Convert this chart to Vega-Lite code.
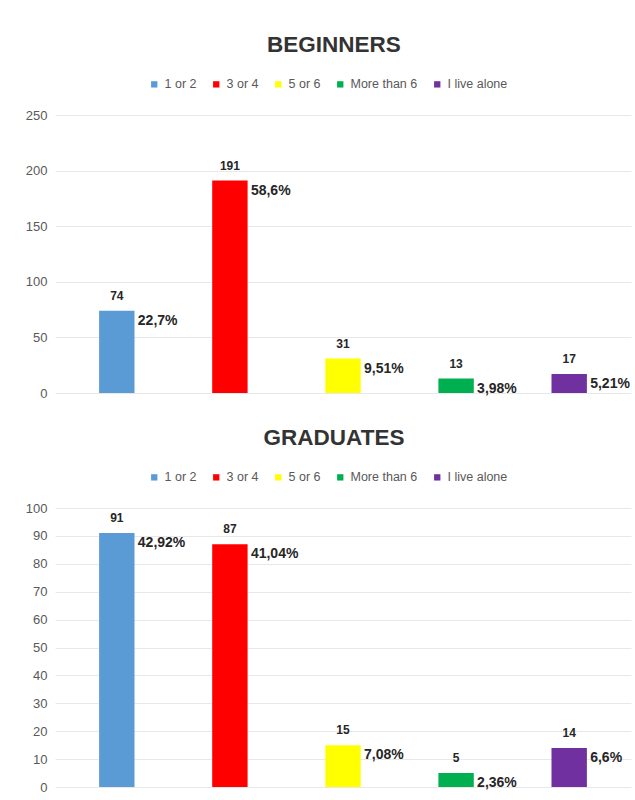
{
  "$schema": "https://vega.github.io/schema/vega-lite/v6.json",
  "padding": {"left": 25, "top": 33, "right": 5, "bottom": 5},
  "background": "white",
  "data": {"values": [
    {"group": "BEGINNERS", "cat": "1 or 2", "n": 74, "pct": "22,7%"},
    {"group": "BEGINNERS", "cat": "3 or 4", "n": 191, "pct": "58,6%"},
    {"group": "BEGINNERS", "cat": "5 or 6", "n": 31, "pct": "9,51%"},
    {"group": "BEGINNERS", "cat": "More than 6", "n": 13, "pct": "3,98%"},
    {"group": "BEGINNERS", "cat": "I live alone", "n": 17, "pct": "5,21%"},
    {"group": "GRADUATES", "cat": "1 or 2", "n": 91, "pct": "42,92%"},
    {"group": "GRADUATES", "cat": "3 or 4", "n": 87, "pct": "41,04%"},
    {"group": "GRADUATES", "cat": "5 or 6", "n": 15, "pct": "7,08%"},
    {"group": "GRADUATES", "cat": "More than 6", "n": 5, "pct": "2,36%"},
    {"group": "GRADUATES", "cat": "I live alone", "n": 14, "pct": "6,6%"}
  ]},
  "config": {
    "font": "Liberation Sans",
    "view": {"stroke": null},
    "title": {"fontSize": 22.5, "fontWeight": "bold", "color": "#333333", "anchor": "middle", "offset": 22, "dx": -9},
    "axis": {"labelFontSize": 13, "labelColor": "#595959", "domain": false, "ticks": false, "gridColor": "#e8e8e8", "labelPadding": 8},
    "legend": {"labelFontSize": 12.5, "labelColor": "#595959", "symbolType": "square", "symbolSize": 40, "symbolStrokeWidth": 0, "columnPadding": 13, "orient": "none", "direction": "horizontal", "legendX": 93, "legendY": -37, "labelOffset": 4}
  },
  "resolve": {"legend": {"color": "independent"}},
  "spacing": 26,
  "vconcat": [
    {
      "title": "BEGINNERS",
      "width": 576,
      "height": 278,
      "transform": [{"filter": "datum.group === 'BEGINNERS'"}],
      "encoding": {
        "x": {"field": "cat", "type": "nominal", "sort": null, "axis": null, "scale": {"paddingInner": 0.687, "paddingOuter": 0.39}},
        "y": {"field": "n", "type": "quantitative", "scale": {"domain": [0, 250]}, "axis": {"values": [0, 50, 100, 150, 200, 250], "title": null}}
      },
      "layer": [
        {"mark": {"type": "bar"}, "encoding": {"color": {"field": "cat", "type": "nominal", "sort": null, "scale": {"domain": ["1 or 2", "3 or 4", "5 or 6", "More than 6", "I live alone"], "range": ["#5B9BD5", "#FF0000", "#FFFF00", "#00B050", "#7030A0"]}, "legend": {"title": null}}}},
        {"mark": {"type": "text", "dy": -15, "fontSize": 12, "fontWeight": "bold", "color": "#262626"}, "encoding": {"text": {"field": "n"}}},
        {"mark": {"type": "text", "dy": 10, "dx": 21, "align": "left", "fontSize": 14, "fontWeight": "bold", "color": "#262626"}, "encoding": {"text": {"field": "pct"}}}
      ]
    },
    {
      "title": "GRADUATES",
      "width": 576,
      "height": 279,
      "transform": [{"filter": "datum.group === 'GRADUATES'"}],
      "encoding": {
        "x": {"field": "cat", "type": "nominal", "sort": null, "axis": null, "scale": {"paddingInner": 0.687, "paddingOuter": 0.39}},
        "y": {"field": "n", "type": "quantitative", "scale": {"domain": [0, 100]}, "axis": {"values": [0, 10, 20, 30, 40, 50, 60, 70, 80, 90, 100], "title": null}}
      },
      "layer": [
        {"mark": {"type": "bar"}, "encoding": {"color": {"field": "cat", "type": "nominal", "sort": null, "scale": {"domain": ["1 or 2", "3 or 4", "5 or 6", "More than 6", "I live alone"], "range": ["#5B9BD5", "#FF0000", "#FFFF00", "#00B050", "#7030A0"]}, "legend": {"title": null}}}},
        {"mark": {"type": "text", "dy": -15, "fontSize": 12, "fontWeight": "bold", "color": "#262626"}, "encoding": {"text": {"field": "n"}}},
        {"mark": {"type": "text", "dy": 10, "dx": 21, "align": "left", "fontSize": 14, "fontWeight": "bold", "color": "#262626"}, "encoding": {"text": {"field": "pct"}}}
      ]
    }
  ]
}
